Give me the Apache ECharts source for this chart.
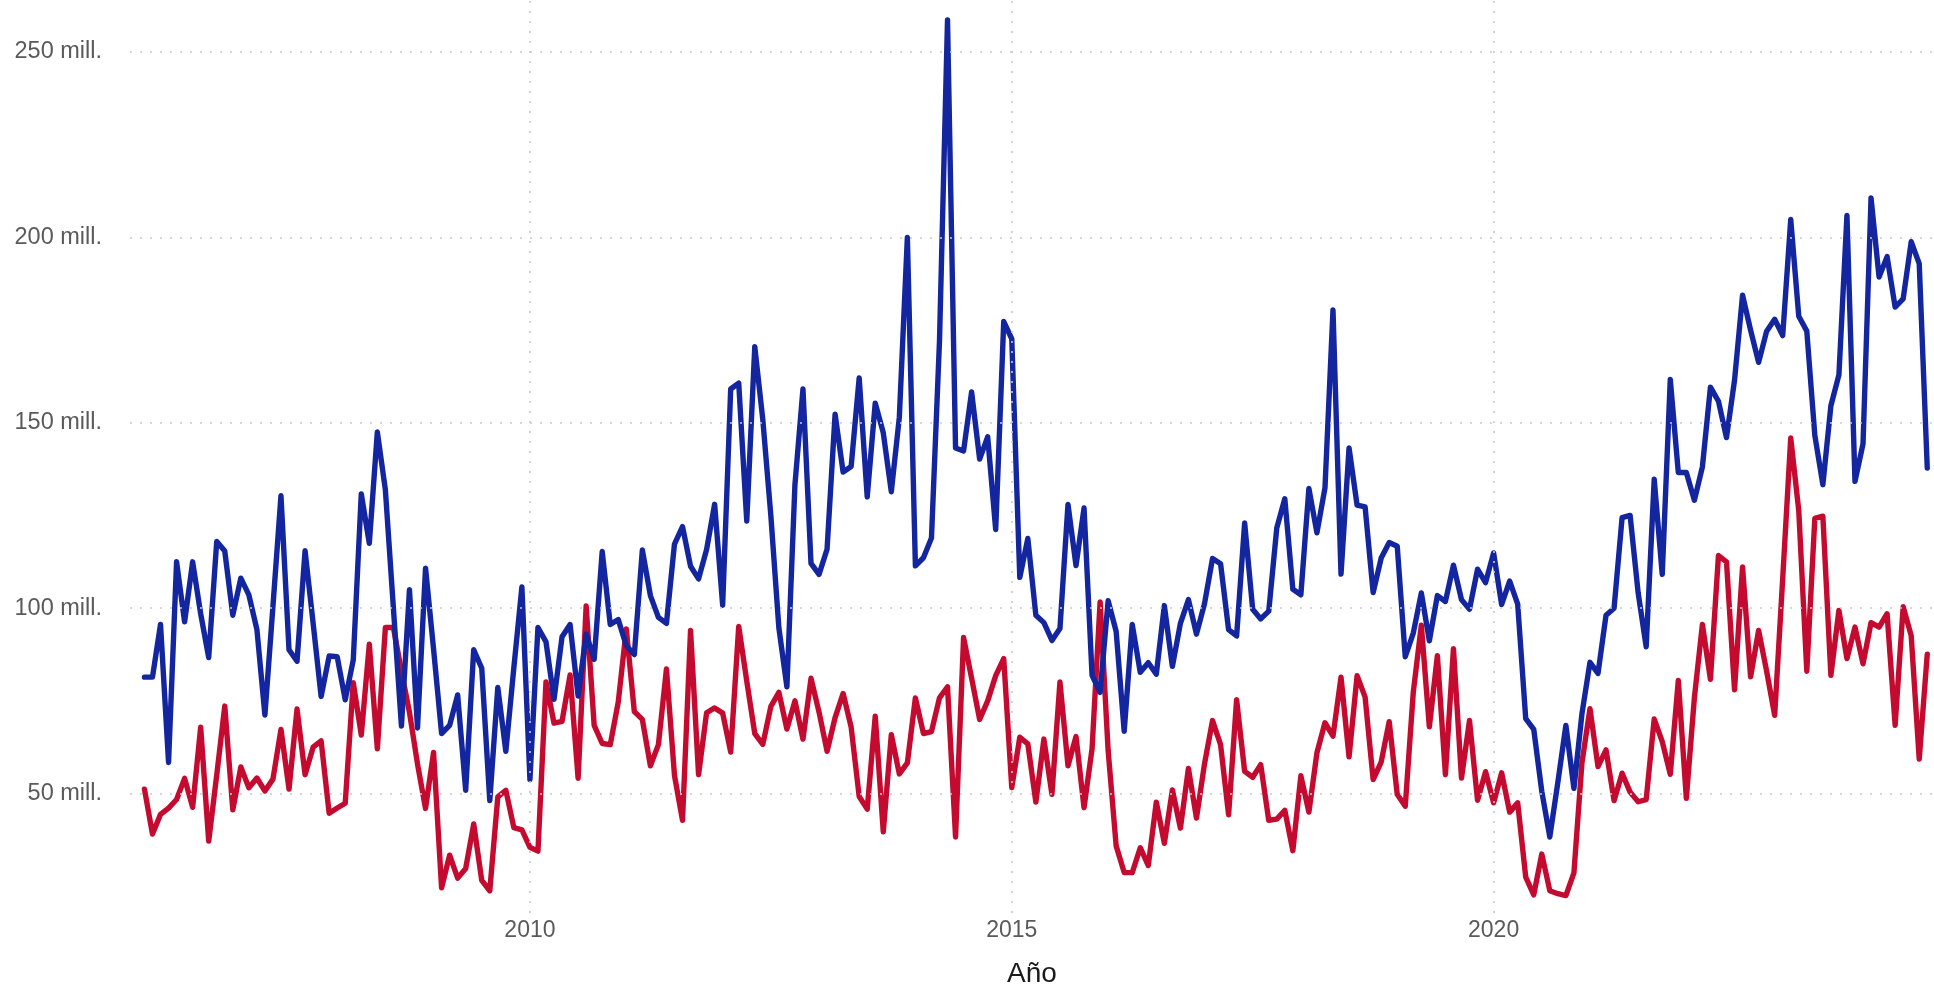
<!DOCTYPE html>
<html>
<head>
<meta charset="utf-8">
<script src="https://cdn.jsdelivr.net/npm/echarts@6/dist/echarts.min.js"></script>
<style>
html,body{margin:0;padding:0;background:#fff;}
#chart{width:1934px;height:993px;}
</style>
</head>
<body>
<div id="chart"></div>
<script>
// Monthly series, January 2006 onwards
const startYear = 2006;

const blueValues = [
81.4,81.4,95.6,58.4,112.5,96.3,112.5,98.5,86.7,118.0,115.4,98.1,
108.1,103.6,94.3,71.2,100.5,130.3,88.8,85.7,115.5,96,76.2,87.1,
86.9,75.3,86.0,130.8,117.5,147.5,131.9,100,68.2,105.0,67.7,110.8,
89,66.2,68.4,76.6,50.9,88.8,83.8,48.1,78.6,61.4,84,105.7,
53.8,94.8,90.9,75.4,92.3,95.6,76.3,93.0,86.2,115.3,95.6,96.9,
89.9,87.5,115.7,103.4,97.5,95.9,117.3,122.0,111.3,107.9,115.8,128.0,
100.8,159.1,160.7,123.5,170.5,150.8,125,94.7,78.8,133.3,159.1,112.1,
109.1,115.9,152.3,136.7,138.2,162.1,130.0,155.3,147.3,131.4,151.5,200.0,
111.4,113.6,118.9,172,258.6,143.2,142.4,158.3,140.2,146.2,121.2,177.3,
172.6,108.3,118.8,98.1,96.1,91.3,94.5,128.0,111.5,127.0,81.9,77.3,
102.0,93.7,66.8,95.6,82.7,85.3,82.2,100.7,84.3,95.9,102.3,93.0,
101.2,113.4,112.0,94.2,92.5,123.0,99.7,97.1,99.2,121.6,129.5,105.1,
103.6,132.3,120.3,132.4,180.4,109.2,143.2,127.8,127.3,104.2,113.5,117.7,
116.7,86.9,93.3,104.1,91.2,103.4,101.8,111.6,102.3,99.7,110.5,106.9,
114.9,101.0,107.3,101.1,70.2,67.3,50.6,38.3,53.0,68.4,51.4,71.5,
85.4,82.4,98.1,100.0,124.4,125.0,104.1,89.6,134.8,109.1,161.7,136.6,
136.6,129.1,138.1,159.6,155.8,146.0,161.4,184.4,175,166.3,174.7,177.9,
173.5,204.8,178.7,174.7,146.6,133.3,154.6,162.9,205.9,134.2,144.3,210.6,
189.3,194.8,181.2,183.4,198.8,192.9,137.8
];

const redValues = [
51.2,39.1,44.4,46.1,48.4,54.1,46.3,67.9,37.2,55,73.6,45.6,
57.2,51.6,54.2,50.7,53.9,67.3,51.2,72.8,55.1,62.5,64.2,44.7,
46.1,47.4,79.9,65.8,90.3,62.1,94.8,94.8,83,71.9,58,46,
61.1,24.6,33.4,27.2,29.8,41.8,26.6,23.8,49.1,50.9,40.8,40.2,
35.5,34.5,80.1,69.0,69.5,82.0,54.1,100.6,68.4,63.5,63.2,74.7,
94.4,72.1,70.0,57.5,63.2,83.6,54.9,42.8,94.0,55.1,71.8,73.1,
71.7,61.2,95.1,80.3,66.2,63.3,73.5,77.3,67.4,75.0,64.7,81.1,
72.0,61.4,70.5,77.0,67.9,49.2,45.8,70.9,39.7,65.9,55.3,58.3,
75.8,66.2,66.7,75.8,78.8,38.3,92.1,81.1,70.0,75.0,81.8,86.4,
51.6,65.2,63.4,47.7,64.7,49.8,80.1,57.5,65.4,46.2,62.1,101.7,
61.6,35.9,28.7,28.7,35.4,30.6,47.7,36.6,51.0,40.7,56.8,43.4,
58.0,69.7,63.2,44.3,75.3,56.0,54.4,57.8,42.8,43.1,45.5,34.6,
54.8,45.0,61,69.1,65.5,81.4,59.9,81.8,76.0,53.8,58.5,69.4,
49.8,46.6,77.4,95.4,68.0,87.2,55.1,89.1,54.2,69.7,48.2,55.9,
47.5,55.6,45.0,47.5,27.5,22.7,33.7,23.8,23.0,22.5,28.6,58.3,
72.9,57.3,61.8,48.1,55.5,50.4,47.8,48.4,70.1,64.0,55.2,80.5,
48.7,75.8,95.6,80.8,114.2,112.5,78,111.1,81.5,94.0,83,71.1,
108,145.9,126.3,83,124.2,124.8,81.9,99.4,86.4,94.9,85.0,96.1,
94.9,98.5,68.4,100.4,92.6,59.3,87.6
];

const xTickLabels = [2010, 2015, 2020];
const yTickLabels = [50, 100, 150, 200, 250];

const toPoints = vals => vals.map((v, i) => [startYear + i / 12, v]);

const gridLineStyle = { type: [2, 8], color: '#c9c9c9', width: 1.6 };
const labelFont = 'Liberation Sans, Arial, sans-serif';

const chart = echarts.init(document.getElementById('chart'), null, { renderer: 'canvas' });
chart.setOption({
  animation: false,
  backgroundColor: '#ffffff',
  grid: { left: 130, right: 0, top: 0, bottom: 63, containLabel: false },
  xAxis: {
    type: 'value',
    min: 2005.85,
    max: 2024.57,
    axisLine: { show: false },
    axisTick: { show: false },
    splitLine: { show: false },
    axisLabel: {
      customValues: xTickLabels,
      formatter: v => String(v),
      color: '#5a5a5a',
      fontSize: 23,
      fontFamily: labelFont,
      margin: 6
    },
    name: 'Año',
    nameLocation: 'middle',
    nameGap: 47,
    nameTextStyle: { color: '#1a1a1a', fontSize: 28, fontFamily: labelFont }
  },
  yAxis: {
    type: 'value',
    min: 17.8,
    max: 264,
    axisLine: { show: false },
    axisTick: { show: false },
    splitLine: { show: false },
    axisLabel: {
      customValues: yTickLabels,
      formatter: v => v + ' mill.',
      color: '#5a5a5a',
      fontSize: 23.5,
      fontFamily: labelFont,
      margin: 28
    }
  },
  series: [
    {
      name: 'grid',
      type: 'line',
      data: [],
      z: 1,
      silent: true,
      markLine: {
        silent: true,
        symbol: ['none', 'none'],
        label: { show: false },
        lineStyle: gridLineStyle,
        emphasis: { disabled: true },
        data: xTickLabels.map(v => ({ xAxis: v })).concat(yTickLabels.map(v => ({ yAxis: v })))
      }
    },
    {
      name: 'rojo',
      type: 'line',
      data: toPoints(redValues),
      showSymbol: false,
      z: 3,
      lineStyle: { color: '#C50A2F', width: 5.4, join: 'round', cap: 'round' },
      itemStyle: { color: '#C50A2F' }
    },
    {
      name: 'azul',
      type: 'line',
      data: toPoints(blueValues),
      showSymbol: false,
      z: 4,
      lineStyle: { color: '#13259F', width: 5.4, join: 'round', cap: 'round' },
      itemStyle: { color: '#13259F' }
    }
  ]
});
</script>
</body>
</html>
